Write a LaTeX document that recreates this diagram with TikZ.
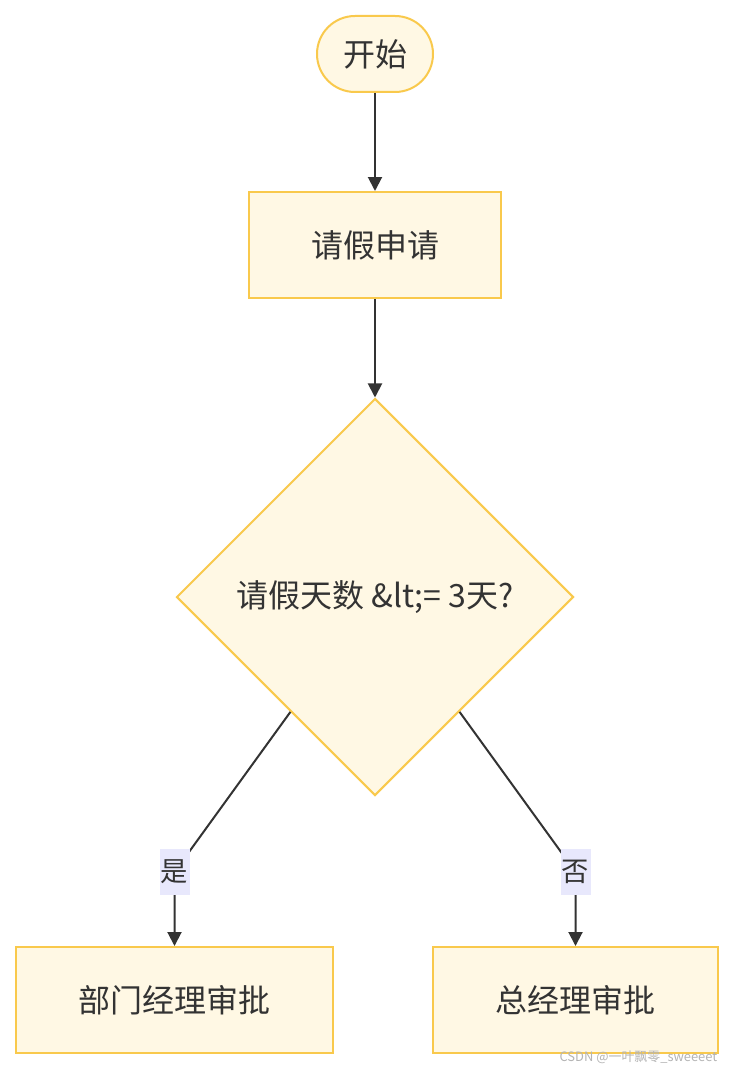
\documentclass[tikz,border=0pt]{standalone}
\usepackage{fontspec}
\setmainfont{Noto Sans CJK SC}
\usepackage{xcolor}
\usepackage{tikz}
\usetikzlibrary{positioning,arrows.meta,calc,shapes.geometric}
\definecolor{FLOWcream}{HTML}{FFF8E4}
\definecolor{FLOWgold}{HTML}{F9C94C}
\definecolor{FLOWink}{HTML}{333333}
\definecolor{FLOWlav}{HTML}{E8E8FC}
\definecolor{FLOWmark}{HTML}{B4B4B4}
\tikzset{
  startbox/.style={rounded corners=28.5pt, draw=FLOWgold, fill=FLOWcream, line width=1.5pt, minimum width=87pt, minimum height=57pt, font=\fontsize{24}{28}\selectfont, text=FLOWink},
  flowbox/.style={draw=FLOWgold, fill=FLOWcream, line width=1.5pt, minimum height=79.5pt, font=\fontsize{24}{28}\selectfont, text=FLOWink},
  decbox/.style={diamond, aspect=1, draw=FLOWgold, fill=FLOWcream, line width=1.5pt, minimum width=297.75pt, minimum height=297.75pt, inner sep=0pt, font=\fontsize{24}{28}\selectfont, text=FLOWink},
  edgelbl/.style={fill=FLOWlav, inner xsep=1pt, inner ysep=0pt, minimum height=35pt, font=\fontsize{20.5}{24}\selectfont, text=FLOWink},
  flowarr/.style={-{Triangle[length=10.5pt, width=10.5pt]}, line width=1.5pt, draw=FLOWink}
}

\begin{document}
\begin{tikzpicture}[x=0.75pt, y=-0.75pt]
\useasboundingbox[fill=white] (0,0) rectangle (736,1070);
\node[startbox] (start) at (375,54) {开始};
\node[flowbox, minimum width=189pt] (req) at (375,245) {请假申请};
\node[decbox] (days) at (375,597) {请假天数 \&lt;= 3天?};
\node[flowbox, minimum width=237.75pt] (mgr) at (174.5,1000) {部门经理审批};
\node[flowbox, minimum width=213.75pt] (gm) at (575.5,1000) {总经理审批};
\draw[flowarr] (start) -- (req);
\draw[flowarr] (req) -- (days);
\coordinate (yesfrom) at ($(days.west)!0.576!(days.south)$);
\coordinate (nofrom) at ($(days.east)!0.576!(days.south)$);
\draw[flowarr] (yesfrom) -- ($(mgr.north)+(0,-74)$) node[edgelbl] (yes) {是} -- (mgr);
\draw[flowarr] (nofrom) -- ($(gm.north)+(0,-74)$) node[edgelbl] (no) {否} -- (gm);
\node[anchor=east, font=\fontsize{9.7}{11}\selectfont, text=FLOWmark] (mark) at (722,1057) {CSDN @一叶飘零\_sweeeet};
\end{tikzpicture}
\end{document}
